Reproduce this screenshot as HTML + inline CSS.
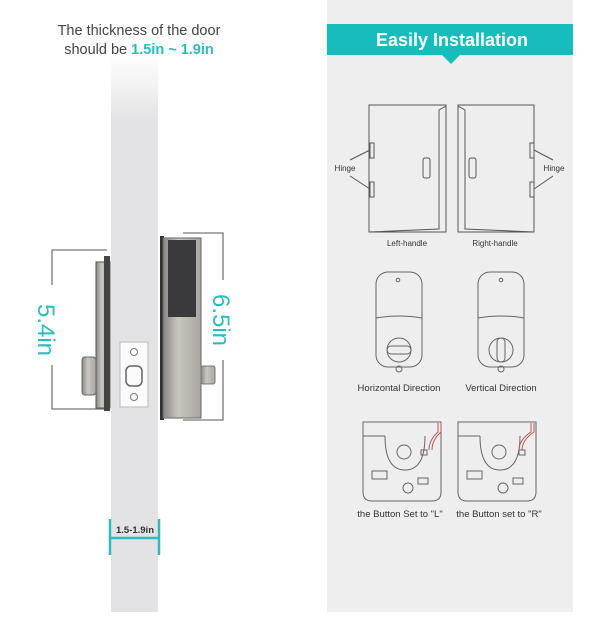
<!DOCTYPE html>
<html><head><meta charset="utf-8"><style>
body{margin:0;width:612px;height:612px;overflow:hidden;background:#fff;font-family:"Liberation Sans",sans-serif}
</style></head><body>
<svg width="612" height="612" viewBox="0 0 612 612" xmlns="http://www.w3.org/2000/svg" font-family="Liberation Sans, sans-serif">
<defs><linearGradient id="dg" x1="0" y1="0" x2="0" y2="1"><stop offset="0" stop-color="#fff"/><stop offset="0.12" stop-color="#e3e3e5"/><stop offset="1" stop-color="#e3e3e5"/></linearGradient>
<linearGradient id="sil" x1="0" y1="0" x2="1" y2="0"><stop offset="0" stop-color="#8a8884"/><stop offset="0.4" stop-color="#c9c6c0"/><stop offset="1" stop-color="#a9a6a0"/></linearGradient></defs>
<rect x="327" y="0" width="246" height="612" fill="#eeeeee"/>
<rect x="111" y="55" width="47" height="557" fill="url(#dg)"/>
<text x="139" y="35" text-anchor="middle" font-size="14.5" fill="#444">The thickness of the door</text>
<text x="139" y="54" text-anchor="middle" font-size="14.5" fill="#444">should be <tspan fill="#2bbdbd" font-weight="bold">1.5in ~ 1.9in</tspan></text>
<!-- 5.4 bracket -->
<path d="M107 250H52V409H107" fill="none" stroke="#777" stroke-width="1.3"/>
<rect x="40" y="285" width="24" height="80" fill="#fff"/>
<text transform="translate(38,330) rotate(90)" text-anchor="middle" font-size="24" fill="#2bbdbd">5.4in</text>
<!-- left lock -->
<rect x="96" y="262" width="14" height="146" fill="url(#sil)" stroke="#555" stroke-width="1"/>
<rect x="104" y="256" width="6" height="155" fill="#444"/>
<rect x="82" y="357" width="14" height="38" rx="3" fill="url(#sil)" stroke="#666"/>
<!-- strike plate -->
<rect x="120" y="342" width="28" height="65" fill="#fafafa" stroke="#bbb"/>
<circle cx="134" cy="352" r="3.5" fill="none" stroke="#777"/><circle cx="134" cy="397" r="3.5" fill="none" stroke="#777"/>
<rect x="126" y="366" width="16" height="20" rx="5" fill="none" stroke="#666" stroke-width="1.5"/>
<!-- right lock -->
<rect x="160" y="236" width="4" height="184" fill="#333"/>
<rect x="163" y="238" width="38" height="180" fill="url(#sil)" stroke="#666"/>
<rect x="168" y="240" width="28" height="77" fill="#3a3a3c"/>
<rect x="201" y="366" width="14" height="18" rx="2" fill="url(#sil)" stroke="#777"/>
<path d="M183 233H223V420H183" fill="none" stroke="#777" stroke-width="1.3"/>
<rect x="211" y="280" width="24" height="80" fill="#fff"/>
<text transform="translate(213,320) rotate(90)" text-anchor="middle" font-size="24" fill="#2bbdbd">6.5in</text>
<!-- bottom dimension -->
<g stroke="#2bbdbd" stroke-width="2.5"><line x1="110" y1="519" x2="110" y2="555"/><line x1="159" y1="519" x2="159" y2="555"/><line x1="110" y1="538" x2="159" y2="538"/></g>
<text x="135" y="533" text-anchor="middle" font-size="9.5" font-weight="bold" fill="#333">1.5-1.9in</text>
<!-- banner -->
<rect x="327" y="24" width="246" height="31" fill="#17bcbc"/>
<path d="M442 55L451 64L460 55Z" fill="#17bcbc"/>
<text x="452" y="46" text-anchor="middle" font-size="18" font-weight="bold" fill="#fff">Easily Installation</text>
<!-- doors -->
<g fill="none" stroke="#555" stroke-width="1">
<rect x="369" y="105" width="77" height="127"/><path d="M446 106L439 110V229L369 232"/><rect x="370" y="143" width="4" height="15"/><rect x="370" y="182" width="4" height="15"/>
<path d="M350 160L370 150M350 176L370 189"/>
<rect x="423" y="158" width="7" height="20" rx="2"/>
<rect x="458" y="105" width="76" height="127"/><path d="M458 106L465 110V229L534 232"/><rect x="530" y="143" width="4" height="15"/><rect x="530" y="182" width="4" height="15"/>
<path d="M553 160L534 150M553 176L534 189"/>
<rect x="469" y="158" width="7" height="20" rx="2"/>
</g>
<text x="345" y="171" text-anchor="middle" font-size="8" fill="#333">Hinge</text>
<text x="554" y="171" text-anchor="middle" font-size="8" fill="#333">Hinge</text>
<text x="407" y="246" text-anchor="middle" font-size="8" fill="#333">Left-handle</text>
<text x="495" y="246" text-anchor="middle" font-size="8" fill="#333">Right-handle</text>
<!-- thumb locks -->
<g fill="none" stroke="#666" stroke-width="1">
<rect x="376" y="272" width="46" height="95" rx="12"/><path d="M376 318Q399 314 422 318"/><circle cx="398" cy="280" r="1.8"/><circle cx="399" cy="350" r="12"/><rect x="387" y="346" width="24" height="8" rx="4"/><circle cx="399" cy="369" r="3"/>
<rect x="478" y="272" width="46" height="95" rx="12"/><path d="M478 318Q501 314 524 318"/><circle cx="501" cy="280" r="1.8"/><circle cx="501" cy="350" r="12"/><rect x="497" y="338" width="8" height="24" rx="4"/><circle cx="501" cy="369" r="3"/>
</g>
<text x="399" y="391" text-anchor="middle" font-size="9.5" fill="#333">Horizontal Direction</text>
<text x="501" y="391" text-anchor="middle" font-size="9.5" fill="#333">Vertical Direction</text>
<!-- boxes -->
<g fill="none" stroke="#666" stroke-width="1">
<path d="M363 422V492Q363 501 372 501H432Q441 501 441 492V422Z"/><path d="M363 436H385M385 436Q385 470 405 470Q425 470 425 436"/><circle cx="404" cy="452" r="7"/><circle cx="408" cy="488" r="5"/><rect x="372" y="471" width="15" height="8"/><rect x="418" y="478" width="10" height="6"/><rect x="421" y="450" width="6" height="5"/>
<path d="M458 422V492Q458 501 467 501H527Q536 501 536 492V422Z"/><path d="M458 436H480M480 436Q480 470 500 470Q520 470 520 436"/><circle cx="499" cy="452" r="7"/><circle cx="503" cy="488" r="5"/><rect x="467" y="471" width="15" height="8"/><rect x="513" y="478" width="10" height="6"/><rect x="519" y="450" width="6" height="5"/>
</g>
<path d="M441 423V432Q432 440 432 450M438 423V432Q429 440 429 450" stroke="#b55" fill="none"/>
<path d="M534 423V432Q522 440 522 450M531 423V432Q519 440 519 450" stroke="#b55" fill="none"/>
<text x="400" y="517" text-anchor="middle" font-size="9.5" fill="#333">the Button Set to "L"</text>
<text x="499" y="517" text-anchor="middle" font-size="9.5" fill="#333">the Button set to "R"</text>
</svg>
</body></html>
